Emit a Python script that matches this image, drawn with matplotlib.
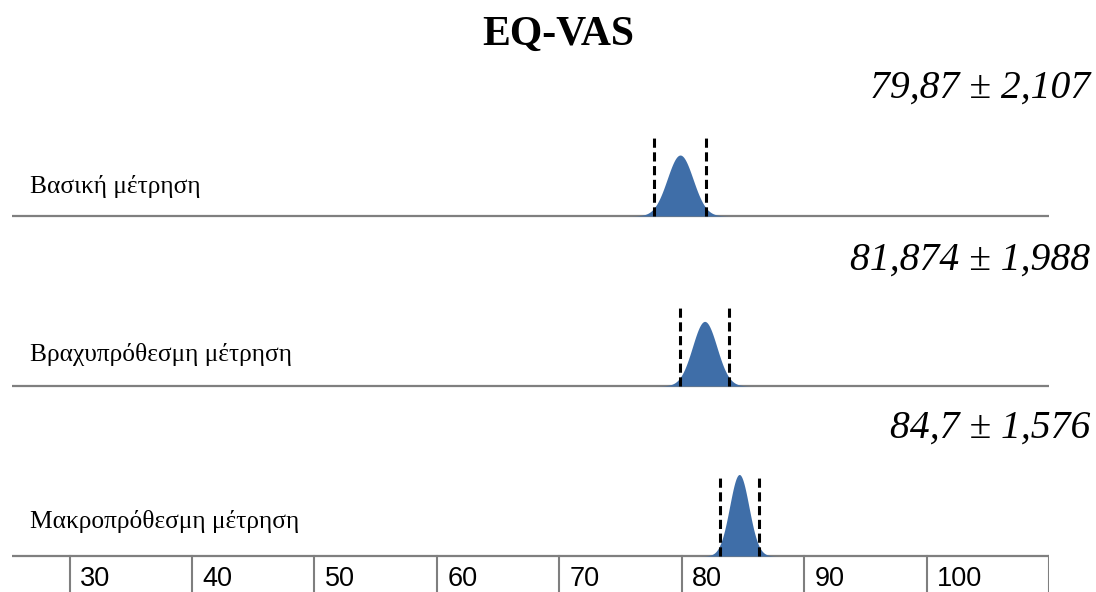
import numpy as np
import matplotlib
matplotlib.use("Agg")
import matplotlib.pyplot as plt

# ---- data ----
title = "EQ-VAS"
row_labels = ["Βασική μέτρηση", "Βραχυπρόθεσμη μέτρηση", "Μακροπρόθεσμη μέτρηση"]
means = [79.87, 81.874, 84.7]
sds = [2.107, 1.988, 1.576]
value_texts = ["79,87 ± 2,107", "81,874 ± 1,988", "84,7 ± 1,576"]
tick_values = [30, 40, 50, 60, 70, 80, 90, 100, 110]
tick_labels = ["30", "40", "50", "60", "70", "80", "90", "100", ""]

# ---- layout (figure pixel units on y) ----
W, H = 1096, 592
fig = plt.figure(figsize=(W / 100, H / 100), dpi=100)
x0px, x1px = 12, 1049
ax = fig.add_axes([x0px / W, 0, (x1px - x0px) / W, 1])
xmin, xmax = 25.3, 110.0
ax.set_xlim(xmin, xmax)
ax.set_ylim(H, 0)
ax.axis("off")
px_per_unit = (x1px - x0px) / (xmax - xmin)

baselines = [216, 386, 556]
dash_tops = [138, 305, 477]
label_base = [193, 361, 528]
value_y = [88, 260, 428]
scale = 161.0  # px per density unit
fill_color = "#3F6EA8"
serif = "Liberation Serif"

for i in range(3):
    b = baselines[i]
    ax.plot([xmin, xmax], [b, b], color="#7f7f7f", lw=1.6, solid_capstyle="butt", zorder=1)
    sig = sds[i] / 2.0
    xs = np.linspace(means[i] - 4 * sig, means[i] + 4 * sig, 300)
    pdf = np.exp(-0.5 * ((xs - means[i]) / sig) ** 2) / (np.sqrt(2 * np.pi) * sig)
    ax.fill_between(xs, b, b - scale * pdf, color=fill_color, lw=0, zorder=2)
    for xv in (means[i] - sds[i], means[i] + sds[i]):
        ax.plot([xv, xv], [b, dash_tops[i]], color="black", lw=2.2,
                dashes=(3.0, 1.5), zorder=3)
    ax.text(xmin + (30 - x0px) / px_per_unit, label_base[i], row_labels[i],
            family=serif, fontsize=18.3, ha="left", va="baseline")
    fig.text(1090 / W, 1 - value_y[i] / H, value_texts[i], family=serif,
             style="italic", fontsize=28.5, ha="right", va="center")

# bottom axis ticks
for tv, tl in zip(tick_values, tick_labels):
    ax.plot([tv, tv], [556, H], color="#7f7f7f", lw=1.5, zorder=1)
    if tl:
        ax.text(tv + 0.85, 592, tl, family="Liberation Sans", fontsize=19.5,
                ha="left", va="bottom")

fig.text(558 / W, 1 - 35 / H, title, family=serif, fontweight="bold",
         fontsize=30, ha="center", va="center")

fig.savefig("out.png", dpi=100)
